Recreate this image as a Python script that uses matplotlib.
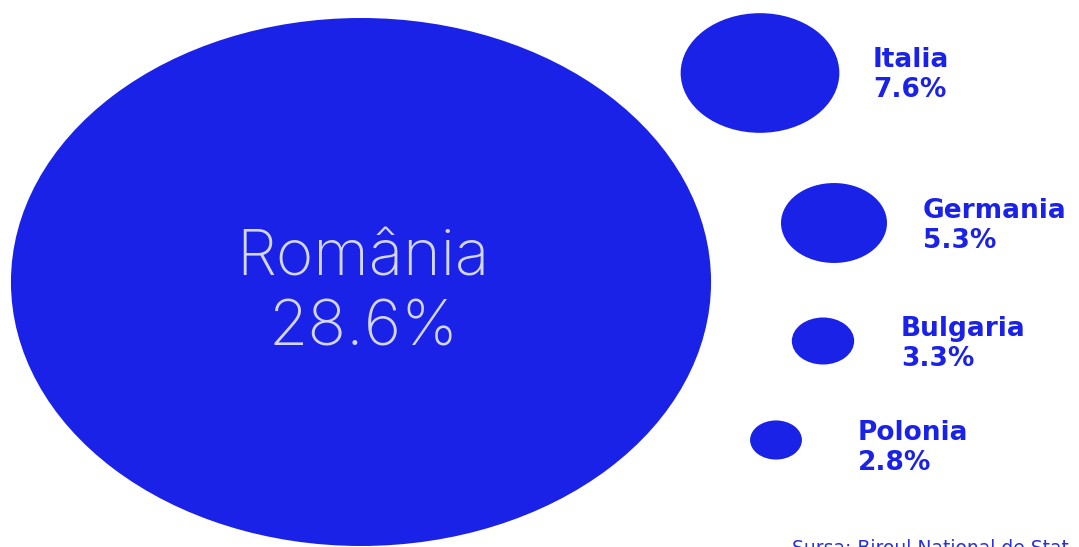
import matplotlib
matplotlib.use("Agg")
import matplotlib.pyplot as plt
from matplotlib.patches import Ellipse

# ---- data ----
countries = ["România", "Italia", "Germania", "Bulgaria", "Polonia"]
shares = [28.6, 7.6, 5.3, 3.3, 2.8]
source_text = "Sursa: Biroul National de Stat"

# ---- layout (pixel coordinates) ----
W, H = 1079, 547
centers = [(361, 282), (760, 73), (834, 223), (823, 341), (776, 440)]
label_pos = [None, (873, 67), (923, 218), (901, 336), (858, 440)]
max_diam = 528.0      # vertical diameter of the largest bubble, px
size_exp = 1.12       # scale exponent
x_stretch = 1.326     # horizontal stretch of the picture

BLUE = "#1b22e8"
LIGHT = "#d3d6f7"

fig = plt.figure(figsize=(W / 100, H / 100), dpi=100)
ax = fig.add_axes([0, 0, 1, 1])
ax.set_xlim(0, W)
ax.set_ylim(H, 0)
ax.axis("off")

vmax = max(shares)
for i, (name, v) in enumerate(zip(countries, shares)):
    d = max_diam * (v / vmax) ** size_exp
    cx, cy = centers[i]
    ax.add_patch(Ellipse((cx, cy), width=d * x_stretch, height=d,
                         facecolor=BLUE, edgecolor="none"))
    pct = f"{v:.1f}%"
    if label_pos[i] is None:
        ax.text(cx + 2, cy - 6, name, ha="center", va="baseline",
                color=LIGHT, fontsize=46, family=["Inter", "DejaVu Sans"],
                fontweight="light")
        ax.text(cx + 2, cy + 63, pct, ha="center", va="baseline",
                color=LIGHT, fontsize=46, family=["Inter", "DejaVu Sans"],
                fontweight="light")
    else:
        lx, ly = label_pos[i]
        ax.text(lx, ly, name, ha="left", va="baseline", color=BLUE,
                fontsize=19, family="DejaVu Sans", fontweight="bold")
        ax.text(lx, ly + 30, pct, ha="left", va="baseline", color=BLUE,
                fontsize=19, family="DejaVu Sans", fontweight="bold")

ax.text(792, 539, source_text, ha="left", va="top", color="#2a30e0",
        fontsize=13.5, family="DejaVu Sans")

fig.savefig("out.png", dpi=100, facecolor="white")
